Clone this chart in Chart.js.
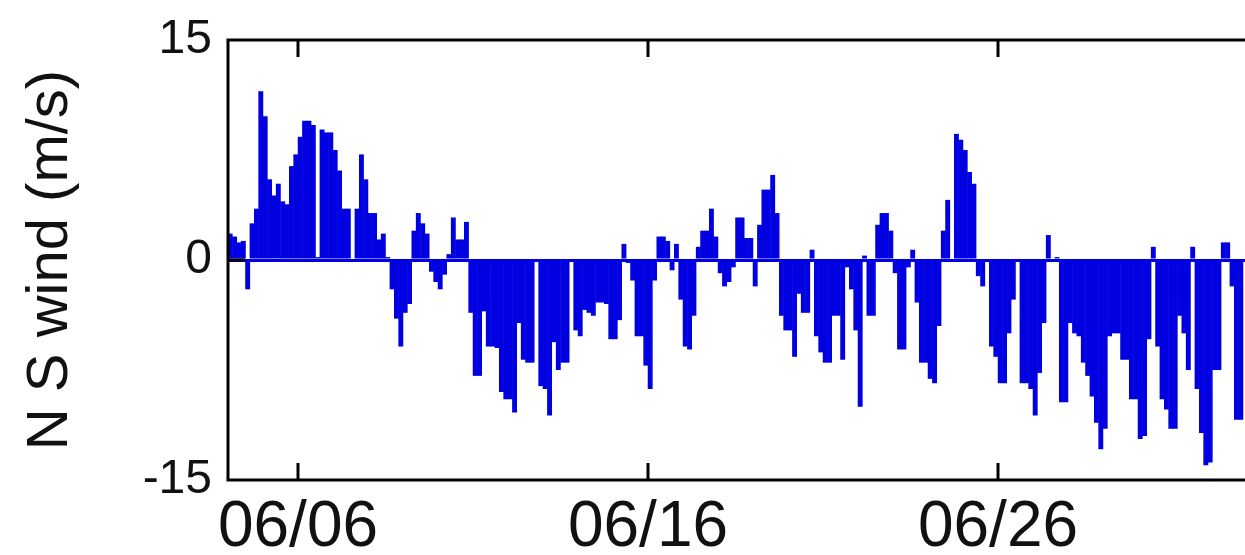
<!DOCTYPE html>
<html><head><meta charset="utf-8">
<script src="https://cdn.jsdelivr.net/npm/chart.js@4/dist/chart.umd.min.js"></script>
<style>
html,body{margin:0;padding:0;background:#fff;overflow:hidden;}
#wrap{width:1300px;height:555px;position:relative;}
canvas{display:block;}
</style></head><body>
<div id="wrap"><canvas id="c" width="1300" height="555"></canvas></div>
<script>
// Time axis: hours after 06/04 00:00, one value every 3 hours
const stepHours = 3;
const xMaxHours = 720;
// North-south wind (m/s), 8 values per day starting 06/04
const nsWind = [
  1.8, 1.6, 1.2, 1.3, -2.0, 2.5, 3.5, 11.5,
  9.8, 5.5, 4.4, 5.2, 4.0, 3.8, 6.4, 7.2,
  8.4, 9.5, 9.5, 9.2, 0.2, 8.9, 8.7, 8.7,
  7.5, 6.1, 3.5, 3.5, 0.1, 3.5, 7.2, 5.5,
  3.2, 3.2, 1.4, 1.8, 0.2, -2.0, -4.0, -5.9,
  -3.6, -3.0, 2.0, 3.2, 2.5, 1.8, -0.8, -1.5,
  -2.0, -1.0, 0.4, 2.9, 1.4, 1.4, 2.6, -3.6,
  -7.9, -7.9, -3.5, -5.9, -5.9, -6.0, -9.0, -9.5,
  -9.5, -10.4, -4.3, -6.8, -7.0, -7.0, -0.1, -8.6,
  -8.8, -10.6, -5.6, -7.5, -7.0, -7.0, 0.0, -4.8,
  -5.2, -3.4, -3.6, -3.8, -2.9, -2.9, -3.0, -5.4,
  -5.4, -4.1, 1.1, -0.2, -1.4, -5.2, -5.2, -7.2,
  -8.8, -1.4, 1.6, 1.6, 1.3, -0.7, 1.1, -2.7,
  -5.9, -6.1, -3.8, 0.9, 2.0, 2.0, 3.5, 1.6,
  -0.9, -1.8, -1.5, -0.5, 2.9, 2.9, 1.5, 1.5,
  -1.8, 2.4, 4.8, 4.8, 5.8, 3.2, -3.8, -4.8,
  -4.8, -6.6, -2.3, -3.6, -3.6, 0.7, -5.2, -6.3,
  -7.0, -7.0, -3.8, -3.8, -6.8, -0.5, -2.0, -4.8,
  -10.0, 0.3, -3.8, -3.8, 2.4, 3.2, 3.2, 2.0,
  -0.9, -6.1, -6.1, -0.5, 0.7, -2.9, -7.0, -7.0,
  -8.1, -8.4, -4.5, 2.0, 4.1, 0.0, 8.6, 8.2,
  7.5, 6.0, 5.2, -1.1, -1.8, 0.0, -5.9, -6.6,
  -8.4, -8.4, -5.0, -2.7, 0.0, -8.4, -8.4, -8.8,
  -10.6, -7.7, -4.3, 1.7, 0.0, 0.2, -9.7, -9.7,
  -4.3, -5.0, -5.2, -7.0, -7.9, -9.3, -11.1, -12.9,
  -11.5, -5.2, -5.0, -5.0, -6.8, -6.8, -9.5, -9.5,
  -12.2, -12.0, -5.4, 0.9, -5.9, -9.5, -10.2, -11.5,
  -11.5, -3.8, -5.0, -7.5, 0.9, -8.8, -11.8, -14.0,
  -13.8, -7.5, -7.5, 1.2, 1.2, -1.8, -10.9, -10.9
];
// Tick positions (hours after 06/04 00:00) and labels
const xTickHours = [48, 288, 528];
const xTickLabels = ['06/06', '06/16', '06/26'];
const yTickValues = [-15, 0, 15];
const yTitle = 'N S wind (m/s)';

const points = nsWind.map((v, i) => ({ x: stepHours * i + stepHours / 2, y: v }));
const BLUE = '#0000e0';
const FONT = 'Liberation Sans, Arial, sans-serif';

const frame = {
  id: 'frame',
  afterDraw(chart) {
    const { ctx, chartArea: a, scales } = chart;
    ctx.save();
    ctx.strokeStyle = '#000';
    ctx.lineWidth = 3;
    ctx.beginPath();
    ctx.moveTo(a.left, a.top); ctx.lineTo(a.right, a.top);
    ctx.moveTo(a.left, a.bottom); ctx.lineTo(a.right, a.bottom);
    ctx.moveTo(a.left, a.top - 1.5); ctx.lineTo(a.left, a.bottom + 1.5);
    ctx.moveTo(a.right, a.top - 1.5); ctx.lineTo(a.right, a.bottom + 1.5);
    const len = 17;
    xTickHours.forEach(h => {
      const px = scales.x.getPixelForValue(h);
      ctx.moveTo(px, a.bottom); ctx.lineTo(px, a.bottom - len);
      ctx.moveTo(px, a.top); ctx.lineTo(px, a.top + len);
    });
    yTickValues.forEach(v => {
      const py = scales.y.getPixelForValue(v);
      ctx.moveTo(a.left, py); ctx.lineTo(a.left + len, py);
      ctx.moveTo(a.right, py); ctx.lineTo(a.right - len, py);
    });
    ctx.stroke();
    ctx.restore();
  }
};

new Chart(document.getElementById('c'), {
  type: 'bar',
  data: {
    datasets: [{
      data: points,
      backgroundColor: BLUE,
      borderWidth: 0,
      barPercentage: 1.12,
      categoryPercentage: 1
    }]
  },
  options: {
    responsive: false,
    animation: false,
    layout: { padding: { left: 0, top: 38, right: 22, bottom: 0 } },
    plugins: { legend: { display: false }, tooltip: { enabled: false } },
    scales: {
      x: {
        type: 'linear',
        offset: false,
        min: 0, max: xMaxHours,
        afterBuildTicks: s => { s.ticks = xTickHours.map(v => ({ value: v })); },
        afterFit: s => { s.height = 75; },
        ticks: {
          callback: v => xTickLabels[xTickHours.indexOf(v)],
          font: { size: 64, family: FONT },
          color: '#111',
          padding: 10,
          maxRotation: 0,
          autoSkip: false
        },
        grid: { display: false, drawTicks: false },
        border: { display: false }
      },
      y: {
        min: -15, max: 15,
        afterBuildTicks: s => { s.ticks = yTickValues.map(v => ({ value: v })); },
        afterFit: s => { s.width = 228; },
        ticks: {
          font: { size: 48, family: FONT, lineHeight: 1 },
          color: '#111',
          padding: 16
        },
        grid: {
          drawTicks: false,
          color: c => (c.tick && c.tick.value === 0) ? BLUE : 'rgba(0,0,0,0)',
          lineWidth: 3
        },
        border: { display: false },
        title: {
          display: true,
          text: yTitle,
          font: { size: 58, family: FONT },
          color: '#111',
          padding: { top: 16, bottom: 0 }
        }
      }
    }
  },
  plugins: [frame]
});
</script>
</body></html>
